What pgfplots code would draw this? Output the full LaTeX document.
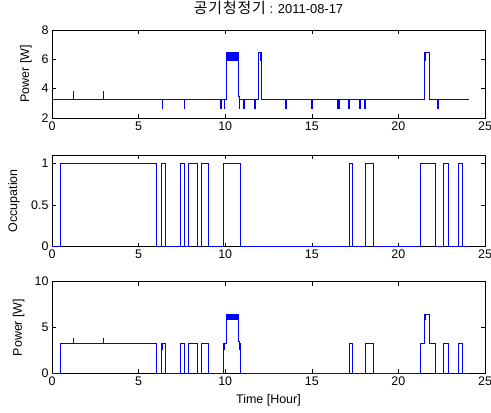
\documentclass[border=0pt]{standalone}
\usepackage{fontspec}
\setmainfont{Liberation Sans}
\newfontfamily\cjk[Scale=1.15, LetterSpace=6]{Noto Sans CJK KR}
\usepackage{pgfplots}
\pgfplotsset{compat=1.18}

\pgfplotsset{
  panel/.style={
    scale only axis, width=433bp, anchor=north west,
    xmin=0, xmax=25, xtick={0,5,...,25},
    tick align=inside, tick pos=both, major tick length=4bp,
    axis line style={black, line width=0.6bp},
    every tick/.style={black, line width=0.6bp},
    tick label style={font=\fontsize{12.5}{14}\selectfont},
    label style={font=\fontsize{12.5}{14}\selectfont},
    /pgf/number format/assume math mode=true,
    clip=false,
  },
  sig/.style={const plot, blue, line width=0.8bp, mark=none},
}

\begin{document}
\begin{tikzpicture}
\path[use as bounding box] (0,0) rectangle (491bp,-413bp);

% panel 1: raw power
\begin{axis}[panel, at={(52bp,-30bp)}, height=88bp,
  ymin=2, ymax=8, ytick={2,4,6,8},
  ylabel={Power [W]},
  ylabel style={at={(axis description cs:-0.060,0.5)}, anchor=center},
  title={{\cjk 공기청정기} : 2011-08-17},
  title style={at={(0.5,1)}, anchor=base, yshift=10.5bp, font=\fontsize{13}{15}\selectfont},
]
\addplot[sig] coordinates {
 (0,3.25) (1.22,3.8) (1.24,3.25) (2.96,3.8) (2.98,3.25)
 (6.38,2.65) (6.40,3.25) (7.65,2.65) (7.67,3.25)
 (9.75,2.65) (9.77,3.25) (9.96,2.65) (9.98,3.25)
 (10.08,6.45) (10.12,5.9) (10.14,6.45) (10.16,5.9) (10.18,6.45) (10.20,5.9)
 (10.22,6.45) (10.24,5.9) (10.26,6.45) (10.31,5.9) (10.33,6.45)
 (10.38,5.9) (10.40,6.45) (10.42,5.9) (10.44,6.45) (10.46,5.9) (10.48,6.45)
 (10.50,5.9) (10.52,6.45) (10.54,5.9) (10.56,6.45) (10.58,5.9) (10.60,6.45)
 (10.62,5.9) (10.64,6.45) (10.66,5.9) (10.68,6.45) (10.70,5.9) (10.72,6.45)
 (10.74,5.9) (10.76,6.45) (10.78,3.5) (10.80,3.25)
 (10.81,2.65) (10.83,3.25) (11.06,2.65) (11.08,3.25)
 (11.70,2.65) (11.72,3.25) (11.75,2.65) (11.77,3.25)
 (11.94,6.45) (12.02,5.9) (12.04,6.45) (12.09,3.25)
 (13.50,2.65) (13.52,3.25) (14.99,2.65) (15.01,3.25)
 (16.45,2.65) (16.47,3.25) (16.55,2.65) (16.57,3.25)
 (17.13,2.65) (17.15,3.25) (17.76,2.65) (17.78,3.25)
 (18.05,2.65) (18.07,3.25)
 (21.52,6.45) (21.54,5.9) (21.56,6.45) (21.81,3.25)
 (22.27,2.65) (22.29,3.25) (24.05,3.25)
};
\end{axis}

% panel 2: occupation
\begin{axis}[panel, at={(52bp,-155bp)}, height=91.7bp,
  ymin=0, ymax=1.1, ytick={0,0.5,1},
  ylabel={Occupation},
  ylabel style={at={(axis description cs:-0.088,0.5)}, anchor=center},
]
\addplot[sig] coordinates {
 (0,0) (0.48,1) (6.05,0) (6.32,1) (6.55,0) (7.42,1) (7.65,0)
 (7.88,1) (8.42,0) (8.63,1) (9.04,0) (9.90,1) (10.88,0)
 (17.15,1) (17.36,0) (18.11,1) (18.57,0) (21.29,1) (22.16,0)
 (22.62,1) (22.91,0) (23.49,1) (23.72,0) (24.05,0)
};
\end{axis}

% panel 3: power while occupied
\begin{axis}[panel, at={(52bp,-281.7bp)}, height=91.6bp,
  ymin=0, ymax=10, ytick={0,5,10},
  ylabel={Power [W]},
  ylabel style={at={(axis description cs:-0.077,0.5)}, anchor=center},
  xlabel={Time [Hour]},
  xlabel style={at={(axis description cs:0.5,0)}, anchor=base, yshift=-30bp},
]
\addplot[sig] coordinates {
 (0,0) (0.48,3.25) (1.22,3.8) (1.24,3.25) (2.96,3.8) (2.98,3.25)
 (6.05,0) (6.32,3.25) (6.38,2.65) (6.40,3.25) (6.55,0)
 (7.42,3.25) (7.65,0) (7.88,3.25) (8.42,0) (8.63,3.25) (9.04,0)
 (9.90,3.25) (9.96,2.65) (9.98,3.25)
 (10.08,6.45) (10.12,5.9) (10.14,6.45) (10.16,5.9) (10.18,6.45) (10.20,5.9)
 (10.22,6.45) (10.24,5.9) (10.26,6.45) (10.31,5.9) (10.33,6.45)
 (10.38,5.9) (10.40,6.45) (10.42,5.9) (10.44,6.45) (10.46,5.9) (10.48,6.45)
 (10.50,5.9) (10.52,6.45) (10.54,5.9) (10.56,6.45) (10.58,5.9) (10.60,6.45)
 (10.62,5.9) (10.64,6.45) (10.66,5.9) (10.68,6.45) (10.70,5.9) (10.72,6.45)
 (10.74,5.9) (10.76,6.45) (10.78,3.5) (10.80,3.25)
 (10.81,2.65) (10.83,3.25) (10.88,0)
 (17.15,3.25) (17.36,0) (18.11,3.25) (18.57,0)
 (21.29,3.25) (21.52,6.45) (21.54,5.9) (21.56,6.45) (21.81,3.25) (22.16,0)
 (22.62,3.25) (22.91,0) (23.49,3.25) (23.72,0) (24.05,0)
};
\end{axis}
\end{tikzpicture}
\end{document}
